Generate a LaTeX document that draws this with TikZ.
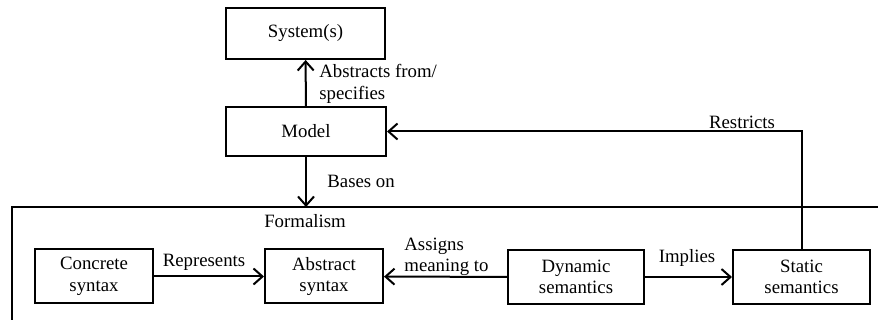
\documentclass[tikz,border=0pt]{standalone}
\usepackage{fontspec}
\setmainfont{Liberation Serif}
\usepackage{tikz}
\usetikzlibrary{arrows.meta}

\tikzset{
  box/.style={draw,line width=1pt,align=center,inner sep=0pt,
    minimum width=59pt,minimum height=27pt},
  link/.style={line width=1pt,-{Straight Barb[length=4.5pt,width=8pt,line width=1pt]}},
  lab/.style={align=center,inner sep=0pt}
}

\begin{document}
\begin{tikzpicture}[x=0.5pt,y=-0.5pt,font=\fontsize{9.4}{10.8}\selectfont]
  \useasboundingbox(0,0)rectangle(878,320);
  % upper part
  \node[box,minimum width=79.5pt,minimum height=25.5pt](sys)at(305.5,33.5){System(s)};
  \node[box,minimum width=80pt,minimum height=24.5pt](model)at(306,131.5){Model};
  \draw[link](model)--(sys);
  \node[lab,align=left,anchor=west](abs)at(319,84){Abstracts from/\\specifies};
  % formalism frame
  \draw[line width=1pt](878,207)--(12,207)--(12,320);
  \coordinate(ftop)at(model.south|-0,207);
  \draw[link](model)--(ftop);
  \node[lab,anchor=west](bas)at(327,181){Bases on};
  \node[lab](form)at(305,221){Formalism};
  % languages
  \node[box](conc)at(94,276.5){Concrete\\syntax};
  \node[box](abst)at(324,276.5){Abstract\\syntax};
  \node[box,minimum width=68pt](dyn)at(576,277){Dynamic\\semantics};
  \node[box,minimum width=68.5pt](stat)at(801.5,277){Static\\semantics};
  \draw[link](conc)--(abst);
  \node[lab](rep)at(204,262){Represents};
  \draw[link](dyn)--(abst);
  \node[lab,align=left,anchor=west](asg)at(404,257){Assigns\\meaning to};
  \draw[link](dyn)--(stat);
  \node[lab](imp)at(687,258){Implies};
  \draw[link](stat.north)|-(model.east);
  \node[lab](res)at(742,122){Restricts};
\end{tikzpicture}
\end{document}
